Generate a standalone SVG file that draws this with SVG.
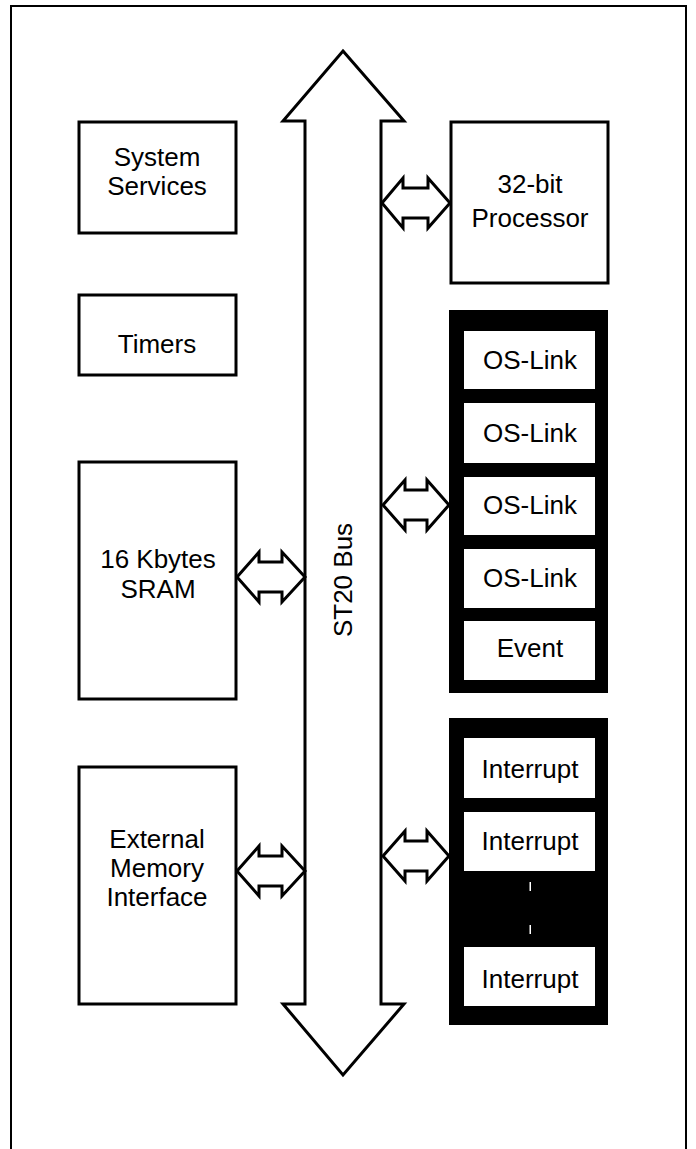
<svg xmlns="http://www.w3.org/2000/svg" width="696" height="1149" viewBox="0 0 696 1149">
<style>
.box{fill:#fff;stroke:#000;stroke-width:3}
.grp{fill:#000}
.cell{fill:#fff}
.arr{fill:#fff;stroke:#000;stroke-width:3;stroke-linejoin:miter}
text{font-family:"Liberation Sans",Arial,sans-serif;font-size:26px;fill:#000;text-anchor:middle}
</style>
<rect x="11" y="6" width="675" height="1170" fill="#fff" stroke="#000" stroke-width="2"/>
<g id="connectors">
<polygon id="bus" class="arr" points="343,51 404,121 381,121 381,1004 404,1004 343,1075 283,1004 305,1004 305,121 283,121"/>
<polygon class="arr" points="382,203 403,178 403,188 428,188 428,178 450,203 428,228 428,218 403,218 403,228"/>
<polygon class="arr" points="237,577 259,552 259,562 282,562 282,552 305,577 282,602 282,592 259,592 259,602"/>
<polygon class="arr" points="383,505 405,480 405,490 427,490 427,480 449,505 427,530 427,520 405,520 405,530"/>
<polygon class="arr" points="237,871 259,846 259,856 282,856 282,846 305,871 282,896 282,886 259,886 259,896"/>
<polygon class="arr" points="383,856 405,831 405,841 427,841 427,831 449,856 427,881 427,871 405,871 405,881"/>
</g>
<g id="bus-label"><text transform="translate(352,580) rotate(-90)">ST20 Bus</text></g>
<g id="system-services">
<rect class="box" x="79" y="122" width="157" height="111"/>
<text x="157" y="166">System</text><text x="157" y="195">Services</text>
</g>
<g id="timers">
<rect class="box" x="79" y="295" width="157" height="80"/>
<text x="157" y="353">Timers</text>
</g>
<g id="sram">
<rect class="box" x="79" y="462" width="157" height="237"/>
<text x="158" y="568">16 Kbytes</text><text x="158" y="598">SRAM</text>
</g>
<g id="emi">
<rect class="box" x="79" y="767" width="157" height="237"/>
<text x="157" y="848">External</text><text x="157" y="877">Memory</text><text x="157" y="906">Interface</text>
</g>
<g id="processor">
<rect class="box" x="451" y="122" width="157" height="161"/>
<text x="530" y="193">32-bit</text><text x="530" y="227">Processor</text>
</g>
<g id="oslinks">
<rect class="grp" x="449" y="310" width="159" height="383"/>
<rect class="cell" x="464" y="331" width="131" height="58"/><text x="530" y="369">OS-Link</text>
<rect class="cell" x="464" y="403" width="131" height="60"/><text x="530" y="442">OS-Link</text>
<rect class="cell" x="464" y="477" width="131" height="58"/><text x="530" y="514">OS-Link</text>
<rect class="cell" x="464" y="549" width="131" height="59"/><text x="530" y="587">OS-Link</text>
<rect class="cell" x="464" y="621" width="131" height="59"/><text x="530" y="657">Event</text>
</g>
<g id="interrupts">
<rect class="grp" x="449" y="718" width="159" height="307"/>
<rect class="cell" x="464" y="738" width="131" height="60"/><text x="530" y="778">Interrupt</text>
<rect class="cell" x="464" y="812" width="131" height="59"/><text x="530" y="850">Interrupt</text>
<rect class="cell" x="464" y="947" width="131" height="59"/><text x="530" y="988">Interrupt</text>
<rect class="cell" x="529.5" y="882" width="1.5" height="9"/>
<rect class="cell" x="529.5" y="925" width="1.5" height="9"/>
</g>
</svg>
